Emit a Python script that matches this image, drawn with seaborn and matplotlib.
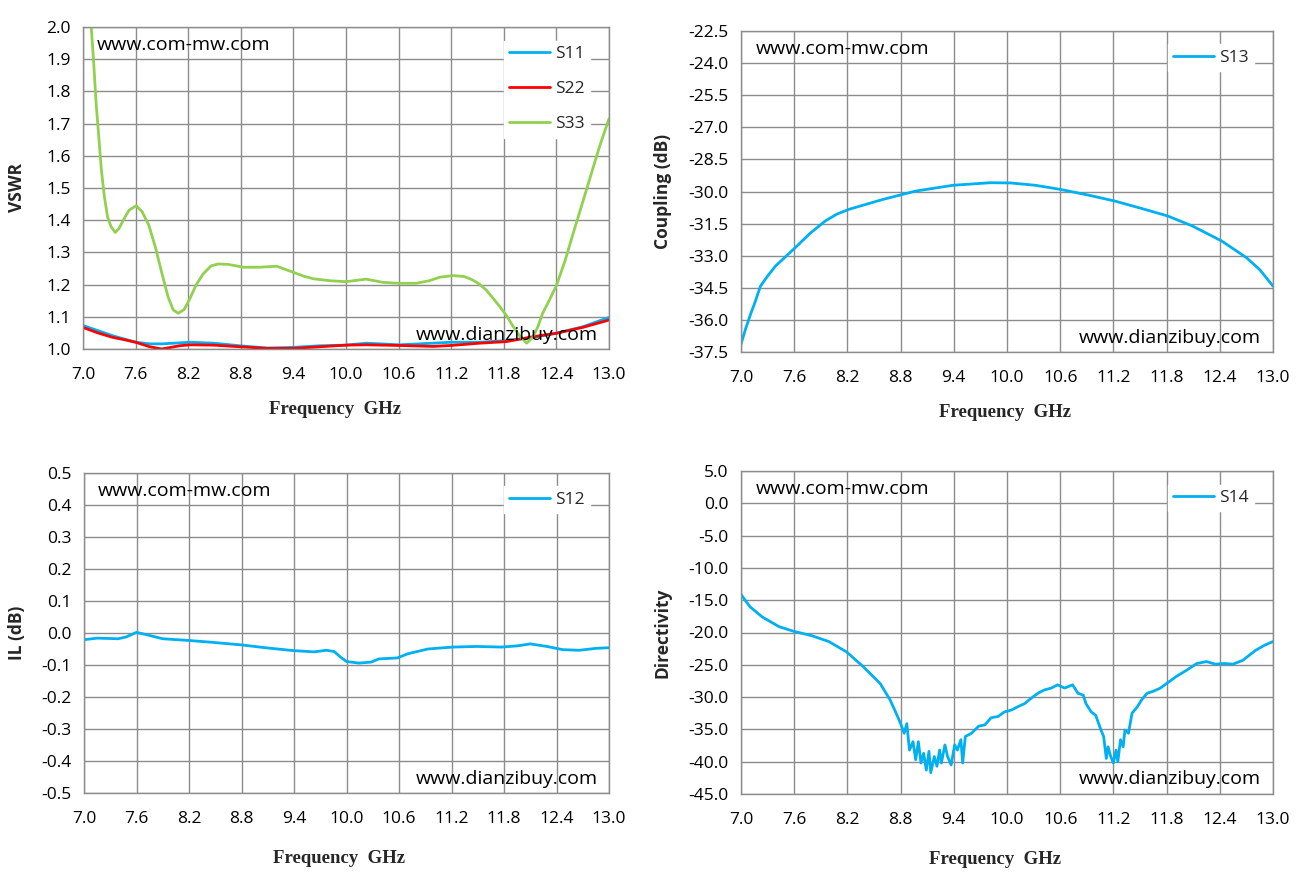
import numpy as np
import pandas as pd
import matplotlib
matplotlib.use("Agg")
import matplotlib.pyplot as plt
import seaborn as sns

# ---------------- data ----------------
freq_s33 = [7.0, 7.094, 7.12, 7.15, 7.18, 7.21, 7.244, 7.28, 7.32, 7.367, 7.41, 7.47, 7.525,
            7.607, 7.675, 7.75, 7.825, 7.90, 7.97, 8.03, 8.087, 8.155, 8.22, 8.29, 8.37,
            8.46, 8.54, 8.65, 8.83, 9.02, 9.21, 9.40, 9.52, 9.63, 9.82, 10.0, 10.23, 10.42,
            10.61, 10.80, 10.95, 11.07, 11.22, 11.35, 11.44, 11.52, 11.60, 11.67, 11.75,
            11.83, 11.90, 11.98, 12.06, 12.13, 12.19, 12.24, 12.32, 12.40, 12.50, 12.59,
            12.74, 12.89, 13.0]
s33 = [2.38, 2.00, 1.897, 1.762, 1.659, 1.555, 1.473, 1.41, 1.38, 1.362, 1.374, 1.405, 1.431,
       1.445, 1.426, 1.385, 1.317, 1.235, 1.162, 1.121, 1.111, 1.123, 1.157, 1.199, 1.233,
       1.258, 1.264, 1.263, 1.254, 1.254, 1.257, 1.238, 1.226, 1.218, 1.212, 1.209, 1.217, 1.207,
       1.204, 1.204, 1.212, 1.223, 1.228, 1.225, 1.215, 1.202, 1.183, 1.16, 1.133,
       1.104, 1.073, 1.041, 1.018, 1.036, 1.07, 1.109, 1.152, 1.197, 1.275, 1.358,
       1.492, 1.627, 1.715]

freq_s11 = [7.0, 7.17, 7.34, 7.47, 7.6, 7.76, 7.9, 8.1, 8.22, 8.49, 8.79, 9.10, 9.40, 9.7, 10.0,
            10.23, 10.61, 10.99, 11.2, 11.52, 11.83, 12.13, 12.4, 12.7, 13.0]
s11 = [1.073, 1.057, 1.041, 1.031, 1.021, 1.016, 1.016, 1.019, 1.021, 1.018, 1.010, 1.003, 1.005,
       1.010, 1.012, 1.018, 1.013, 1.018, 1.021, 1.021, 1.026, 1.036, 1.049, 1.069, 1.098]
s22 = [1.067, 1.050, 1.036, 1.029, 1.021, 1.007, 1.000, 1.010, 1.013, 1.012, 1.007, 1.002, 1.002,
       1.007, 1.012, 1.013, 1.011, 1.008, 1.011, 1.018, 1.023, 1.038, 1.049, 1.067, 1.090]

freq_s13 = [7.0, 7.05, 7.107, 7.15, 7.22, 7.3, 7.39, 7.6, 7.78, 7.95, 8.08, 8.22, 8.6, 8.97,
            9.39, 9.81, 10.04, 10.32, 10.6, 10.93, 11.21, 11.49, 11.81, 12.09, 12.42, 12.70,
            12.85, 13.0]
s13 = [-37.14, -36.44, -35.74, -35.27, -34.42, -33.95, -33.48, -32.67, -31.95, -31.38, -31.06,
       -30.83, -30.37, -29.98, -29.71, -29.59, -29.60, -29.71, -29.90, -30.18, -30.44, -30.76,
       -31.14, -31.61, -32.31, -33.09, -33.65, -34.42]

freq_s12 = [7.0, 7.15, 7.39, 7.48, 7.6, 7.71, 7.9, 8.18, 8.46, 8.81, 9.07, 9.39, 9.63, 9.77,
            9.86, 9.93, 10.0, 10.14, 10.28, 10.37, 10.58, 10.7, 10.93, 11.21, 11.49, 11.77,
            11.96, 12.1, 12.29, 12.47, 12.66, 12.85, 13.0]
s12 = [-0.021, -0.016, -0.018, -0.0125, 0.002, -0.005, -0.018, -0.023, -0.029, -0.0375, -0.046,
       -0.055, -0.059, -0.054, -0.058, -0.075, -0.089, -0.094, -0.091, -0.081, -0.078, -0.065,
       -0.050, -0.044, -0.042, -0.044, -0.040, -0.034, -0.042, -0.052, -0.054, -0.048, -0.046]

freq_s14 = [7.0, 7.10, 7.24, 7.43, 7.59, 7.80, 7.99, 8.19, 8.38, 8.57, 8.68, 8.75, 8.80, 8.84,
            8.87, 8.90, 8.94, 8.97, 9.00, 9.03, 9.06, 9.09, 9.12, 9.14, 9.18, 9.21, 9.24, 9.26,
            9.30, 9.33, 9.37, 9.41, 9.44, 9.48, 9.50, 9.53, 9.60, 9.68, 9.75, 9.82, 9.90, 9.97,
            10.05, 10.12, 10.20, 10.27, 10.35, 10.42, 10.50, 10.57, 10.65, 10.74, 10.80, 10.86,
            10.89, 10.95, 11.00, 11.06, 11.09, 11.12, 11.14, 11.17, 11.20, 11.23, 11.25, 11.28,
            11.31, 11.33, 11.37, 11.41, 11.47, 11.52, 11.58, 11.65, 11.73, 11.80, 11.91, 12.03,
            12.14, 12.25, 12.35, 12.45, 12.55, 12.66, 12.80, 12.90, 13.0]
s14 = [-14.1, -16.0, -17.6, -19.1, -19.8, -20.5, -21.4, -23.0, -25.3, -27.9, -30.4, -32.5,
       -34.1, -35.6, -34.1, -38.2, -36.9, -39.7, -36.9, -40.2, -38.7, -41.3, -38.4, -41.7,
       -39.2, -40.7, -38.2, -40.2, -37.4, -39.2, -40.5, -37.4, -38.2, -36.6, -40.2, -36.1,
       -35.6, -34.5, -34.3, -33.2, -33.0, -32.3, -32.0, -31.5, -31.0, -30.2, -29.4, -28.9,
       -28.6, -28.1, -28.6, -28.1, -29.4, -29.7, -31.0, -32.3, -32.8, -35.1, -36.1, -39.5,
       -37.7, -39.2, -40.2, -38.2, -40.0, -36.6, -37.7, -35.1, -35.6, -32.5, -31.5, -30.4,
       -29.4, -29.1, -28.6, -27.9, -26.8, -25.8, -24.8, -24.5, -24.9, -24.8, -24.9, -24.3,
       -22.8, -22.0, -21.4]

x_ticks = [7.0, 7.6, 8.2, 8.8, 9.4, 10.0, 10.6, 11.2, 11.8, 12.4, 13.0]

# ---------------- style ----------------
sns.set_theme(style="white")
plt.rcParams['font.family'] = ['Open Sans', 'DejaVu Sans']

BLUE = "#00B0F0"
RED = "#FF0000"
GREEN = "#92D050"
GRID = "#8C8C8C"

fig = plt.figure(figsize=(13.02, 8.82), dpi=100)
pos = {
    "tl": [83/1302, 1-349/882, (609-83)/1302, (349-27)/882],
    "tr": [741/1302, 1-352/882, (1273-741)/1302, (352-31)/882],
    "bl": [84/1302, 1-793/882, (609-84)/1302, (793-473)/882],
    "br": [741/1302, 1-794/882, (1273-741)/1302, (794-471)/882],
}


def style_axis(ax, ylim, yticks, yfmt, ylabel, ylab_x, xlab_x, xlab_y):
    ax.set_xlim(7.0, 13.0)
    ax.set_ylim(*ylim)
    ax.set_xticks(x_ticks)
    ax.set_xticklabels([f"{t:.1f}" for t in x_ticks])
    ax.set_yticks(yticks)
    ax.set_yticklabels([yfmt.format(t) for t in yticks])
    ax.grid(True, color=GRID, linewidth=1.0)
    ax.set_axisbelow(True)
    for s in ax.spines.values():
        s.set_color(GRID)
        s.set_linewidth(1.0)
    ax.tick_params(axis="both", which="major", direction="out", length=5, width=1,
                   color=GRID, labelsize=12.5, labelcolor="black", pad=4)
    ax.tick_params(axis="x", pad=8)
    ax.set_xlabel("Frequency  GHz", fontsize=13.5, fontweight="bold",
                  family=["Liberation Serif", "DejaVu Serif"])
    ax.xaxis.set_label_coords(xlab_x, xlab_y)
    ax.set_ylabel(ylabel, fontsize=12.5, fontweight="bold")
    ax.yaxis.set_label_coords(ylab_x, 0.5)
    ax.text(0.027, 0.945, "www.com-mw.com", transform=ax.transAxes, fontsize=14,
            ha="left", va="center", color="black")
    ax.text(0.978, 0.045, "www.dianzibuy.com", transform=ax.transAxes, fontsize=14,
            ha="right", va="center", color="black")


def add_legend(ax):
    leg = ax.legend(loc="upper right", bbox_to_anchor=(0.98, 0.985), frameon=True,
                    fontsize=12.5, handlelength=2.35, handletextpad=0.3,
                    labelspacing=1.1, borderpad=0.3, fancybox=False)
    leg.get_frame().set_facecolor("white")
    leg.get_frame().set_edgecolor("white")
    leg.get_frame().set_alpha(1.0)


# ---- top left: VSWR ----
ax1 = fig.add_axes(pos["tl"])
df_a = pd.DataFrame({"f": freq_s11, "S11": s11, "S22": s22})
df_b = pd.DataFrame({"f": freq_s33, "S33": s33})
sns.lineplot(data=df_a, x="f", y="S11", ax=ax1, color=BLUE, linewidth=2.0, label="S11")
sns.lineplot(data=df_a, x="f", y="S22", ax=ax1, color=RED, linewidth=2.0, label="S22")
sns.lineplot(data=df_b, x="f", y="S33", ax=ax1, color=GREEN, linewidth=2.0, label="S33")
style_axis(ax1, (1.0, 2.0), [1.0 + 0.1 * i for i in range(11)], "{:.1f}", "VSWR",
           -0.108, 0.48, -0.161)
add_legend(ax1)

# ---- top right: coupling ----
ax2 = fig.add_axes(pos["tr"])
df_c = pd.DataFrame({"f": freq_s13, "S13": s13})
sns.lineplot(data=df_c, x="f", y="S13", ax=ax2, color=BLUE, linewidth=2.0, label="S13")
style_axis(ax2, (-37.5, -22.5), [-37.5 + 1.5 * i for i in range(11)], "{:.1f}",
           "Coupling (dB)", -0.13, 0.497, -0.162)
add_legend(ax2)

# ---- bottom left: IL ----
ax3 = fig.add_axes(pos["bl"])
df_d = pd.DataFrame({"f": freq_s12, "S12": s12})
sns.lineplot(data=df_d, x="f", y="S12", ax=ax3, color=BLUE, linewidth=2.0, label="S12")
style_axis(ax3, (-0.5, 0.5), [round(-0.5 + 0.1 * i, 1) for i in range(11)], "{:.1f}",
           "IL (dB)", -0.110, 0.486, -0.178)
add_legend(ax3)

# ---- bottom right: directivity ----
ax4 = fig.add_axes(pos["br"])
df_e = pd.DataFrame({"f": freq_s14, "S14": s14})
sns.lineplot(data=df_e, x="f", y="S14", ax=ax4, color=BLUE, linewidth=2.0, label="S14")
style_axis(ax4, (-45.0, 5.0), [-45.0 + 5.0 * i for i in range(11)], "{:.1f}",
           "Directivity", -0.13, 0.478, -0.176)
add_legend(ax4)

fig.savefig("out.png", dpi=100)
